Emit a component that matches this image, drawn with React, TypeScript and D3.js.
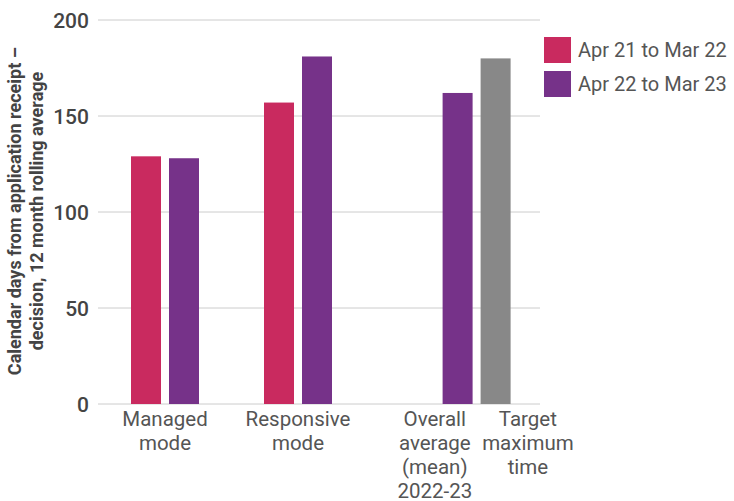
import React from "react";
import * as d3 from "d3";

const series = ["Apr 21 to Mar 22", "Apr 22 to Mar 23", "Target"];
const seriesColors = ["#C92A5F", "#763289", "#888888"];
const groups = [
  ["Managed", "mode"],
  ["Responsive", "mode"],
  ["Overall", "average", "(mean)", "2022-23"],
  ["Target", "maximum", "time"],
];
// each bar: group index, series index, value
const barGroup = [0, 0, 1, 1, 2, 3];
const barSeries = [0, 1, 0, 1, 1, 2];
const barValues = [129, 128, 157, 181, 162, 180];
const yTicks = [0, 50, 100, 150, 200];
const yTitle = ["Calendar days from application receipt –", "decision, 12 month rolling average"];

const W = 734, H = 501;
const plotLeft = 98, plotRight = 540, plotTop = 20, plotBottom = 404;

export default function App() {
  const y = d3.scaleLinear().domain([0, 200]).range([plotBottom, plotTop]);
  // slot scale: one unit = one bar step
  const slot = d3.scaleLinear().domain([0, 1]).range([146, 184]);
  const barW = 30;
  const barSlots = [0, 1, 3.5, 4.5, 8.2, 9.2];
  const labelSlots = [0.5, 4, 7.6, 10.05];
  const font = "Roboto, 'Noto Sans', sans-serif";
  return (
    <svg width={W} height={H} style={{ position: "absolute", left: 0, top: 0, background: "#fff" }} fontFamily={font}>
      {yTicks.map((t) => (
        <g key={t}>
          <line x1={plotLeft} x2={plotRight} y1={y(t)} y2={y(t)} stroke="#cccccc" strokeWidth={1} />
          <text x={89} y={y(t)} dy="0.36em" textAnchor="end" fontSize={21} fill="#444" fontWeight={500}>{t}</text>
        </g>
      ))}
      {barValues.map((v, i) => (
        <rect key={i} x={slot(barSlots[i]) - barW / 2} width={barW} y={y(v)} height={y(0) - y(v)} fill={seriesColors[barSeries[i]]} data-group={barGroup[i]} />
      ))}
      {groups.map((lines, gi) => (
        <text key={gi} x={slot(labelSlots[gi])} y={426} textAnchor="middle" fontSize={20.5} fill="#555">
          {lines.map((l, li) => (
            <tspan key={li} x={slot(labelSlots[gi])} dy={li === 0 ? 0 : 24}>{l}</tspan>
          ))}
        </text>
      ))}
      <text transform={`translate(21,${211}) rotate(-90)`} textAnchor="middle" fontSize={18} fontWeight={700} fill="#444">
        <tspan x={0} dy={0}>{yTitle[0]}</tspan>
        <tspan x={0} dy={22}>{yTitle[1]}</tspan>
      </text>
      {series.slice(0, 2).map((s, i) => (
        <g key={s} transform={`translate(544,${37 + i * 34})`}>
          <rect width={27} height={26} fill={seriesColors[i]} />
          <text x={34} y={13} dy="0.36em" fontSize={20} fill="#555">{s}</text>
        </g>
      ))}
    </svg>
  );
}
